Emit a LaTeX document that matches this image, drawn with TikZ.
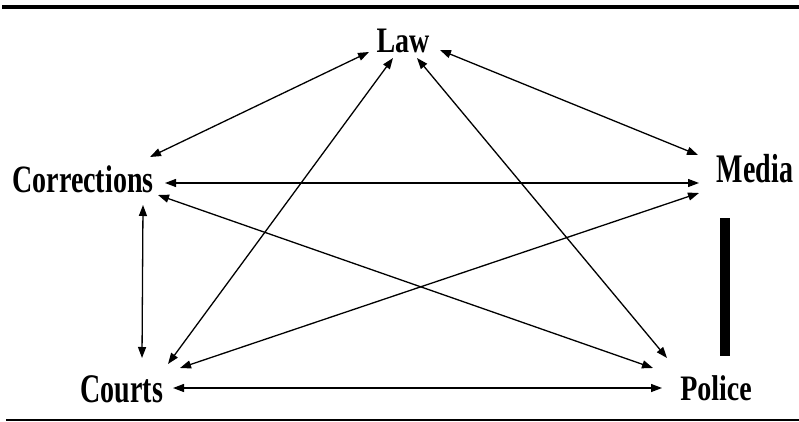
\documentclass[tikz,border=0pt]{standalone}
\usepackage{fontspec}
\usepackage{graphicx}
\setmainfont{Liberation Serif}
\usetikzlibrary{arrows.meta}
\tikzset{
  lbl/.style={anchor=base, inner sep=0pt, font=\fontsize{28}{30}\selectfont\bfseries},
  arr/.style={line width=1.3pt, {Triangle[length=11pt,width=8pt]}-{Triangle[length=11pt,width=8pt]}},
}
\newcommand{\tall}[2]{\scalebox{1}[#1]{#2}}
\begin{document}
\begin{tikzpicture}[x=1pt,y=-1pt]
\useasboundingbox (0,0) rectangle (799,422);
\draw[line width=4pt] (2,7) -- (799,7);
\draw[line width=1.5pt] (6,420) -- (799,420);
\fill (720,218) rectangle (730,356);
\node[lbl] (law) at (403,53) {\tall{1.28}{Law}};
\node[lbl] (corr) at (83,192) {\tall{1.38}{Corrections}};
\node[lbl] (media) at (755,182) {\tall{1.45}{Media}};
\node[lbl] (courts) at (122,402) {\tall{1.45}{Courts}};
\node[lbl] (police) at (716,400) {\tall{1.28}{Police}};
\draw[arr] ([shift={(-34,-1)}]law.base) -- ([shift={(67,-35)}]corr.base);
\draw[arr] ([shift={(37,-3)}]law.base) -- ([shift={(-57,-27)}]media.base);
\draw[arr] ([shift={(82,-9)}]corr.base) -- ([shift={(-56,1)}]media.base);
\draw[arr] ([shift={(60,13)}]corr.base) -- ([shift={(20,-44)}]courts.base);
\draw[arr] ([shift={(51,-14)}]courts.base) -- ([shift={(-54,-12)}]police.base);
\draw[arr] ([shift={(-10,5)}]law.base) -- ([shift={(46,-38)}]courts.base);
\draw[arr] ([shift={(14,5)}]law.base) -- ([shift={(-49,-42)}]police.base);
\draw[arr] ([shift={(75,3)}]corr.base) -- ([shift={(-63,-32)}]police.base);
\draw[arr] ([shift={(-56,11)}]media.base) -- ([shift={(58,-34)}]courts.base);
\end{tikzpicture}
\end{document}
